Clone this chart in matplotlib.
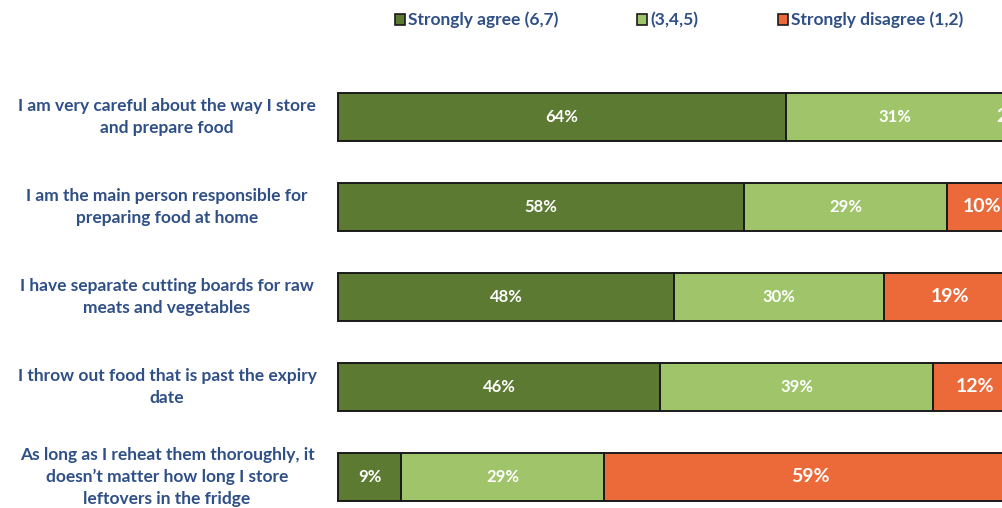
import matplotlib
matplotlib.use("Agg")
import matplotlib.pyplot as plt
from matplotlib.patches import Patch

plt.rcParams['font.family'] = ['Lato', 'DejaVu Sans']

statements = [
    "I am very careful about the way I store\nand prepare food",
    "I am the main person responsible for\npreparing food at home",
    "I have separate cutting boards for raw\nmeats and vegetables",
    "I throw out food that is past the expiry\ndate",
    "As long as I reheat them thoroughly, it\ndoesn\u2019t matter how long I store\nleftovers in the fridge",
]
agree = [64, 58, 48, 46, 9]
neutral = [31, 29, 30, 39, 29]
disagree = [2, 10, 19, 12, 59]

series_names = ["Strongly agree (6,7)", "(3,4,5)", "Strongly disagree (1,2)"]
colors = ["#5D7A32", "#9FC46A", "#EC6A3A"]
label_color = "#2F4F87"

W, H = 1002, 508
fig = plt.figure(figsize=(W / 100, H / 100), dpi=100)
# axes spans 0-100% from x=338px at 7px per percent; extends past the right edge
ax = fig.add_axes([338 / W, (H - 522) / H, 700 / W, 450 / H])
ax.set_xlim(0, 100)
ax.set_ylim(4.5, -0.5)
ax.axis('off')

ypos = list(range(len(statements)))
left = [0] * len(statements)
for k, (vals, col) in enumerate(zip([agree, neutral, disagree], colors)):
    ax.barh(ypos, vals, left=left, height=0.535, color=col,
            edgecolor="#1a1a1a", linewidth=1.4, clip_on=False)
    size = 14 if k == 2 else 12
    for y, v, l in zip(ypos, vals, left):
        ax.text(l + v / 2, y, f"{v}%", ha='center', va='center',
                color='white', fontsize=size, fontweight='bold', clip_on=False)
    left = [a + b for a, b in zip(left, vals)]

for y, s in zip(ypos, statements):
    fig.text(167 / W, 1 - (117 + 90 * y) / H, s, ha='center', va='center',
             color=label_color, fontsize=12.5, fontweight='bold', linespacing=1.45)

# legend entries placed individually at their column positions
legend_x = [395, 637, 778]
for name, col, lx in zip(series_names, colors, legend_x):
    fig.legend([Patch(facecolor=col, edgecolor='#1a1a1a', linewidth=1.2)], [name],
               loc='center left', bbox_to_anchor=(lx / W, 1 - 20 / H),
               frameon=False, handlelength=0.6, handleheight=0.6,
               handletextpad=0.15, borderpad=0, borderaxespad=0,
               labelcolor=label_color, prop={'weight': 'bold', 'size': 12.5})

fig.savefig("out.png", dpi=100)
